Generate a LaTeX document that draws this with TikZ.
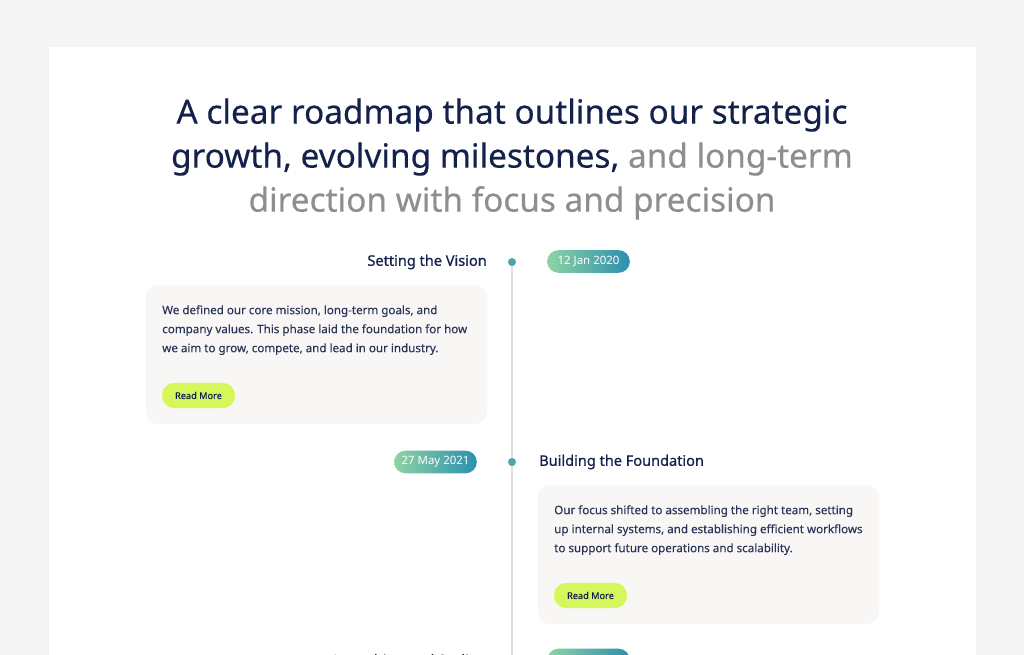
\documentclass[tikz,border=0pt]{standalone}
\usepackage{fontspec}
\setmainfont{Noto Sans}
\usetikzlibrary{positioning}
\usetikzlibrary{shapes.geometric}

\definecolor{pagegray}{HTML}{F4F4F4}
\definecolor{navy}{HTML}{13214B}
\definecolor{softgray}{HTML}{8E8E8E}
\definecolor{cardfill}{HTML}{F8F7F5}
\definecolor{cardink}{HTML}{2A3457}
\definecolor{lime}{HTML}{D6F75C}
\definecolor{pillgreen}{HTML}{8ED3A4}
\definecolor{pillblue}{HTML}{2B8FB0}
\definecolor{dotteal}{HTML}{4FA5A8}
\definecolor{linegray}{HTML}{DEDEDE}

\tikzstyle{heading} = [inner sep=0pt, text=navy, font=\fontsize{10.9}{13}\selectfont\addfontfeatures{FakeBold=0.6}]
\tikzstyle{pill} = [rectangle, rounded corners=8.5pt, minimum width=62pt, minimum height=17pt, inner sep=0pt, left color=pillgreen, right color=pillblue, text=white, font=\fontsize{8.6}{10}\selectfont]
\tikzstyle{dot} = [circle, minimum size=6pt, inner sep=0pt, fill=dotteal]
\tikzstyle{card} = [rectangle, rounded corners=9pt, minimum width=256pt, minimum height=104pt, fill=cardfill]
\tikzstyle{cardtext} = [inner sep=0pt, align=left, text=cardink, font=\fontsize{8.7}{14.25}\selectfont\addfontfeatures{FakeBold=0.2}]
\tikzstyle{button} = [rectangle, rounded corners=9.5pt, minimum width=55pt, minimum height=19pt, inner sep=0pt, fill=lime, text=navy, font=\fontsize{6.9}{9}\selectfont\addfontfeatures{FakeBold=0.3}]
\tikzstyle{timeline} = [draw=linegray, line width=1.1pt]

\begin{document}
\begin{tikzpicture}[x=0.75pt, y=-0.75pt]

    \useasboundingbox (0,0) rectangle (1024,655);
    \fill[pagegray] (0,0) rectangle (1024,655);
    \fill[white] (49,47) rectangle (976,655);

    \node (title) [align=center, text=navy, font=\fontsize{25}{33}\selectfont\addfontfeatures{FakeBold=0.3}] at (512,159)
        {A clear roadmap that outlines our strategic\\
         growth, evolving milestones, \textcolor{softgray}{and long-term}\\
         \textcolor{softgray}{direction with focus and precision}};

    % first milestone
    \node (dot1) [dot] at (512,262) {};
    \node (head1) [heading, anchor=east] at (487,262) {Setting the Vision};
    \node (pill1) [pill] at (588.5,261.5) {12 Jan 2020};
    \node (card1) [card] at (316.5,354.5) {};
    \node (text1) [cardtext, anchor=north west] at (162,305)
        {We defined our core mission, long-term goals, and\\
         company values. This phase laid the foundation for how\\
         we aim to grow, compete, and lead in our industry.};
    \node (more1) [button] at (198.5,395.5) {Read More};

    % second milestone
    \node (dot2) [dot] at (512,462) {};
    \node (pill2) [pill] at (435.5,462) {27 May 2021};
    \node (head2) [heading, anchor=west] at (539,462) {Building the Foundation};
    \node (card2) [card] at (708.5,554.5) {};
    \node (text2) [cardtext, anchor=north west] at (554,505)
        {Our focus shifted to assembling the right team, setting\\
         up internal systems, and establishing efficient workflows\\
         to support future operations and scalability.};
    \node (more2) [button] at (590.5,595.5) {Read More};

    % third milestone, cut by the page edge
    \begin{scope}
        \clip (49,47) rectangle (976,655);
        \node (dot3) [dot] at (512,662) {};
        \node (head3) [heading, anchor=east] at (487,661.5) {Launching and Scaling};
        \node (pill3) [pill] at (588.5,660) {18 Mar 2022};
    \end{scope}

    \draw [timeline] (dot1) -- (dot2);
    \draw [timeline] (dot2) -- (dot3);

\end{tikzpicture}
\end{document}
